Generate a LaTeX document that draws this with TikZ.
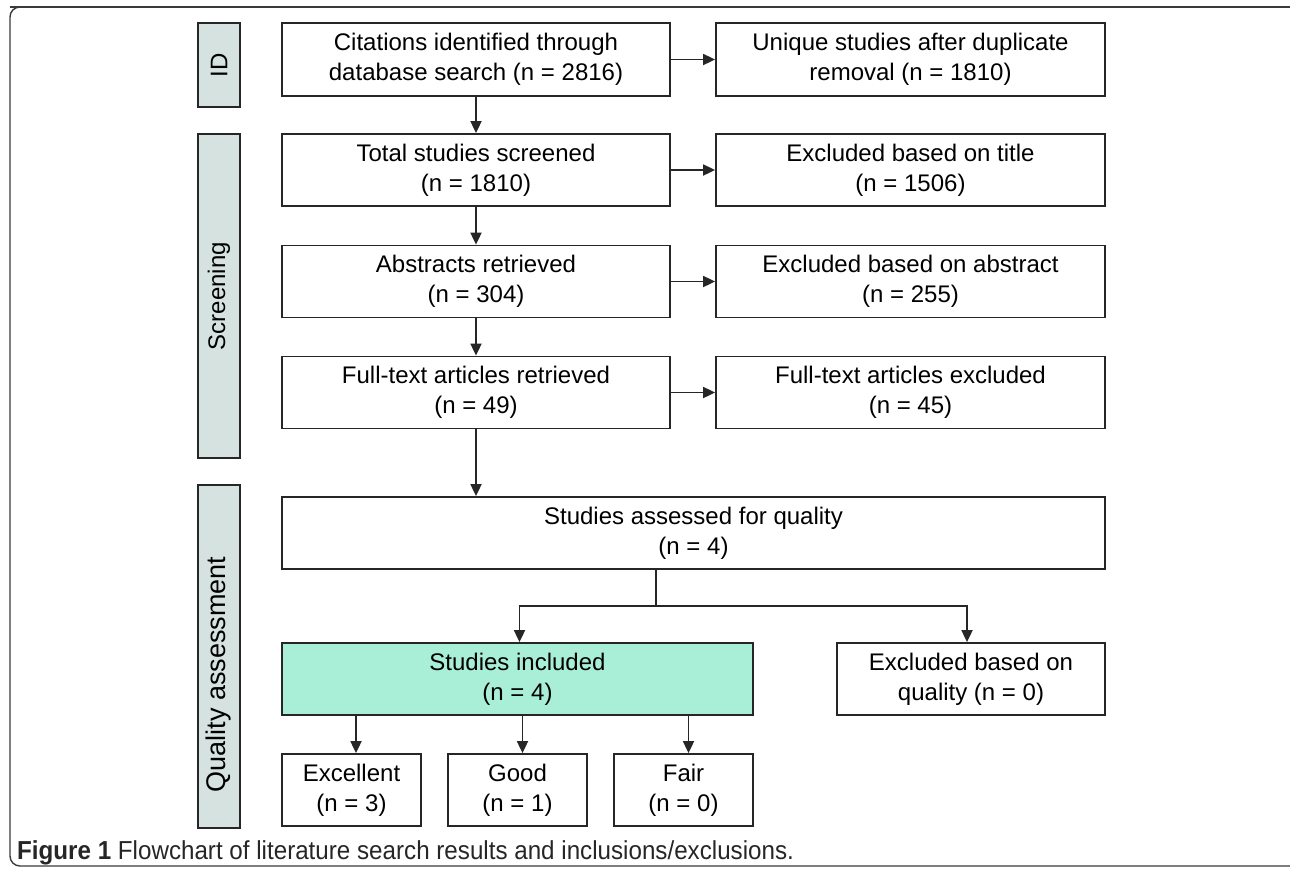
\documentclass[tikz,border=0pt]{standalone}
\usepackage{fontspec}
\setmainfont{Liberation Sans}
\newfontfamily\capfont[FakeStretch=0.93]{Liberation Sans}
\usetikzlibrary{arrows.meta}
\definecolor{linec}{HTML}{262626}
\definecolor{sidefill}{HTML}{D6E2DF}
\definecolor{mint}{HTML}{A9EFD8}
\definecolor{framec}{HTML}{3A3A3A}
\begin{document}
\begin{tikzpicture}[x=1pt,y=-1pt,
  box/.style={draw=linec, line width=1.8pt, fill=white, rectangle, inner sep=0pt,
    align=center, minimum height=72pt, font=\fontsize{24}{30}\selectfont},
  sidebar/.style={draw=linec, line width=1.8pt, fill=sidefill, rectangle, inner sep=0pt,
    minimum width=42pt, font=\fontsize{24}{30}\selectfont},
  arr/.style={draw=linec, line width=1.8pt, -{Triangle[length=12pt,width=11pt]}},
  conn/.style={draw=linec, line width=1.8pt}]
\useasboundingbox (0,0) rectangle (1290,871);
\draw[framec, line width=1.4pt, rounded corners=10pt] (10,7) -- (1287,7) -- (1300,7);
\draw[framec, line width=1.4pt, rounded corners=10pt] (1300,866) -- (10,866) -- (10,7) -- (30,7);

% side bars
\node[sidebar, minimum height=84pt] (sid) at (219,65) {\rotatebox{90}{ID}};
\node[sidebar, minimum height=324pt] (sscr) at (219,296) {\rotatebox{90}{Screening}};
\node[sidebar, minimum height=343pt] (squal) at (219,656.5) {};
\node[font=\fontsize{27}{30}\selectfont, inner sep=0pt] (squalt) at ([yshift=-18pt]squal.center) {\rotatebox{90}{Quality assessment}};

% main column
\node[box, minimum width=388pt, minimum height=73pt] (cit) at (476,59.5) {Citations identified through\\database search (n = 2816)};
\node[box, minimum width=388pt] (tot) at (476,170) {Total studies screened\\(n = 1810)};
\node[box, minimum width=388pt] (abs) at (476,281.5) {Abstracts retrieved\\(n = 304)};
\node[box, minimum width=388pt] (ful) at (476,392.5) {Full-text articles retrieved\\(n = 49)};

% right column
\node[box, minimum width=389pt, minimum height=73pt] (uni) at (910.5,59.5) {Unique studies after duplicate\\removal (n = 1810)};
\node[box, minimum width=389pt] (ext) at (910.5,170) {Excluded based on title\\(n = 1506)};
\node[box, minimum width=389pt] (exa) at (910.5,281.5) {Excluded based on abstract\\(n = 255)};
\node[box, minimum width=389pt] (exf) at (910.5,392.5) {Full-text articles excluded\\(n = 45)};

% quality
\node[box, minimum width=823pt] (qa) at (693.5,533) {Studies assessed for quality\\(n = 4)};
\node[box, minimum width=471pt, fill=mint] (inc) at (517.5,679) {Studies included\\(n = 4)};
\node[box, minimum width=268pt] (exq) at (971,679) {Excluded based on\\quality (n = 0)};

% bottom
\node[box, minimum width=139pt] (exc) at (351.5,790) {Excellent\\(n = 3)};
\node[box, minimum width=139pt] (goo) at (517.5,790) {Good\\(n = 1)};
\node[box, minimum width=139pt] (fai) at (683.5,790) {Fair\\(n = 0)};

% connectors
\draw[arr] (cit) -- (tot);
\draw[arr] (tot) -- (abs);
\draw[arr] (abs) -- (ful);
\draw[arr] (ful.south) -- (ful.south |- qa.north);
\draw[arr] (cit) -- (uni);
\draw[arr] (tot) -- (ext);
\draw[arr] (abs) -- (exa);
\draw[arr] (ful) -- (exf);

\coordinate (br) at (656,606);
\draw[conn] (qa.south -| br) -- (br);
\draw[arr] (br) -| ([xshift=2pt]inc.north);
\draw[arr] (br) -| ([xshift=-4pt]exq.north);

\draw[arr] ([xshift=4.5pt]inc.south -| exc) -- ([xshift=4.5pt]exc.north);
\draw[arr] ([xshift=5pt]inc.south -| goo) -- ([xshift=5pt]goo.north);
\draw[arr] ([xshift=5pt]inc.south -| fai) -- ([xshift=5pt]fai.north);

% caption
\node[anchor=base west, inner sep=0pt, font=\capfont\fontsize{26}{30}\selectfont, text=black!85] (cap) at (17,859)
  {\textbf{Figure 1} Flowchart of literature search results and inclusions/exclusions.};
\end{tikzpicture}
\end{document}
